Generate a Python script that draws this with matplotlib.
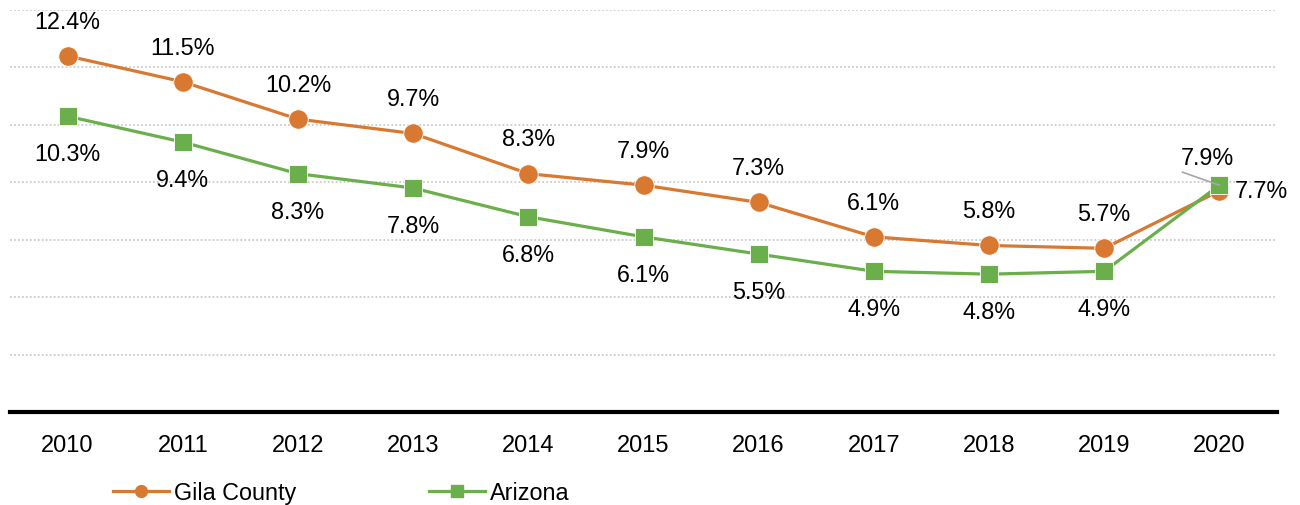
import matplotlib
matplotlib.use("Agg")
from matplotlib import pyplot as plt
from matplotlib.lines import Line2D

years = ["2010", "2011", "2012", "2013", "2014", "2015", "2016", "2017", "2018", "2019", "2020"]
gila = [12.4, 11.5, 10.2, 9.7, 8.3, 7.9, 7.3, 6.1, 5.8, 5.7, 7.7]
arizona = [10.3, 9.4, 8.3, 7.8, 6.8, 6.1, 5.5, 4.9, 4.8, 4.9, 7.9]

plt.rcParams['font.family'] = ['Liberation Sans', 'DejaVu Sans']

orange = '#D97830'
green = '#6AAF4C'
lab_size = 16.8

fig = plt.figure(figsize=(13, 5.06), dpi=100)
ax = fig.add_axes([10 / 1300, 1 - 413 / 506, 1267 / 1300, 402 / 506])

x = list(range(len(years)))
ax.plot(x, arizona, color=green, lw=2.3, marker='s', ms=13.5, zorder=3,
        markeredgecolor='white', markeredgewidth=0.6)
ax.plot(x, gila, color=orange, lw=2.3, marker='o', ms=14, zorder=2,
        markeredgecolor='white', markeredgewidth=0.6)

ax.set_xlim(-0.5, len(years) - 0.5)
ax.set_ylim(0, 14)
ax.set_yticks([2, 4, 6, 8, 10, 12, 14])
ax.yaxis.grid(True, color='#CCCCCC', linestyle=(0, (1, 1.2)), linewidth=1.3)
ax.set_axisbelow(True)
ax.tick_params(axis='y', left=False, labelleft=False)
ax.tick_params(axis='x', bottom=False, labelsize=17, pad=12)
ax.set_xticks(x)
ax.set_xticklabels(years)
for s in ['top', 'left', 'right']:
    ax.spines[s].set_visible(False)
ax.spines['bottom'].set_linewidth(3)
ax.spines['bottom'].set_color('black')

# data labels: county above, state below
for i in range(len(years) - 1):
    ax.annotate(f'{gila[i]}%', (x[i], gila[i]), xytext=(0, 25), textcoords='offset points',
                ha='center', va='center', fontsize=lab_size)
    ax.annotate(f'{arizona[i]}%', (x[i], arizona[i]), xytext=(0, -27), textcoords='offset points',
                ha='center', va='center', fontsize=lab_size)

last = len(years) - 1
ax.annotate(f'{gila[last]}%', (x[last], gila[last]), xytext=(11, 0), textcoords='offset points',
            ha='left', va='center', fontsize=lab_size)
ax.annotate(f'{arizona[last]}%', (x[last], arizona[last]), xytext=(-9, 20), textcoords='offset points',
            ha='center', va='center', fontsize=lab_size)
# leader line for the 2020 state label
ax.plot([x[last] - 0.32, x[last]], [arizona[last] + 0.45, arizona[last]], color='#A6A6A6', lw=1.2, zorder=4)

handles = [Line2D([], [], color=orange, lw=2.3, marker='o', ms=8.5),
           Line2D([], [], color=green, lw=2.3, marker='s', ms=8.5)]
fig.legend(handles, ['Gila County', 'Arizona'], loc='center left',
           bbox_to_anchor=(92 / 1300, 1 - 494 / 506), ncol=2, frameon=False,
           fontsize=lab_size, handlelength=2.4, handletextpad=0.2, columnspacing=5.7)

fig.savefig('out.png', dpi=100)
